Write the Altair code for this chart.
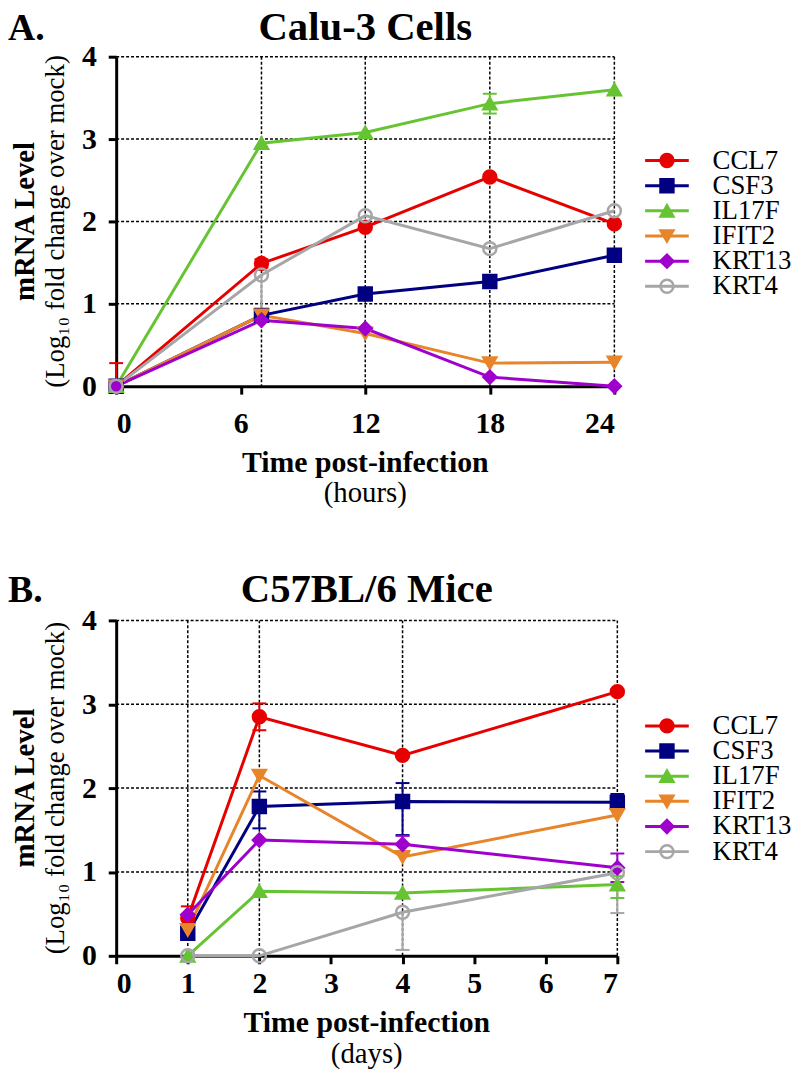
import altair as alt
import pandas as pd

SERIES = ["CCL7", "CSF3", "IL17F", "IFIT2", "KRT13", "KRT4"]
COLORS = ["#e60000", "#000080", "#66c433", "#e8842a", "#a000cc", "#a6a6a8"]
FILLS = ["#e60000", "#000080", "#66c433", "#e8842a", "#a000cc", "transparent"]
SHAPES = ["circle", "square", "triangle-up", "triangle-down", "diamond", "circle"]
Y_TICKS = [0, 1, 2, 3, 4]

# Panel A: Calu-3 cells (hours)
A_TIMES = [0, 7, 12, 18, 24]
A_XTICKS = [0, 6, 12, 18, 24]
A_VALUES = {
    "CCL7": [0, 1.49, 1.93, 2.54, 1.97],
    "CSF3": [0, 0.86, 1.12, 1.27, 1.59],
    "IL17F": [0, 2.95, 3.08, 3.43, 3.60],
    "IFIT2": [0, 0.86, 0.64, 0.28, 0.29],
    "KRT13": [0, 0.80, 0.70, 0.11, 0.0],
    "KRT4": [0, 1.35, 2.07, 1.67, 2.13],
}
A_ERR_UP = {
    "CCL7": [0.28, 0.05, 0, 0, 0],
    "CSF3": [0, 0, 0, 0, 0],
    "IL17F": [0, 0, 0, 0.12, 0],
    "IFIT2": [0, 0, 0, 0, 0],
    "KRT13": [0, 0, 0, 0, 0],
    "KRT4": [0, 0, 0, 0, 0],
}
A_ERR_DOWN = {
    "CCL7": [0, 0.05, 0, 0, 0],
    "CSF3": [0, 0, 0, 0, 0],
    "IL17F": [0, 0, 0, 0.12, 0],
    "IFIT2": [0, 0, 0, 0, 0],
    "KRT13": [0, 0, 0, 0, 0],
    "KRT4": [0, 0.47, 0, 0, 0],
}

# Panel B: C57BL/6 mice (days)
B_TIMES = [1, 2, 4, 7]
B_XTICKS = [0, 1, 2, 3, 4, 5, 6, 7]
B_VALUES = {
    "CCL7": [0.45, 2.85, 2.39, 3.15],
    "CSF3": [0.27, 1.78, 1.84, 1.83],
    "IL17F": [0, 0.77, 0.75, 0.85],
    "IFIT2": [0.31, 2.15, 1.18, 1.68],
    "KRT13": [0.49, 1.38, 1.33, 1.05],
    "KRT4": [0, 0, 0.52, 0.99],
}
B_ERR_UP = {
    "CCL7": [0.14, 0.16, 0, 0],
    "CSF3": [0, 0.18, 0.22, 0.10],
    "IL17F": [0, 0, 0, 0.10],
    "IFIT2": [0, 0, 0, 0],
    "KRT13": [0, 0, 0.10, 0.17],
    "KRT4": [0, 0, 0, 0],
}
B_ERR_DOWN = {
    "CCL7": [0, 0.16, 0, 0],
    "CSF3": [0, 0.26, 0.40, 0],
    "IL17F": [0, 0, 0, 0.16],
    "IFIT2": [0, 0, 0, 0],
    "KRT13": [0, 0, 0.10, 0.17],
    "KRT4": [0, 0, 0.45, 0.48],
}

FONT = "Liberation Serif"

color_scale = alt.Scale(domain=SERIES, range=COLORS)
fill_scale = alt.Scale(domain=SERIES, range=FILLS)
shape_scale = alt.Scale(domain=SERIES, range=SHAPES)


def text_layer(txt, x, y, size, bold=True, angle=0, align="center", baseline="middle"):
    kw = dict(font=FONT, fontSize=size, fontWeight="bold" if bold else "normal",
              color="black", align=align, baseline=baseline)
    if angle:
        kw["angle"] = angle
    return alt.Chart(pd.DataFrame({"t": [txt]})).mark_text(**kw).encode(
        text="t:N", x=alt.value(x), y=alt.value(y))


def panel(times, xticks, values, up, down, W, H, letter, title, unit,
          xpad, head_dy, title_dy, unit_dy):
    rows = []
    caps = []
    for s in SERIES:
        for i, t in enumerate(times):
            v = values[s][i]
            hi = v + up[s][i]
            lo = max(0.0, v - down[s][i])
            rows.append({"series": s, "t": t, "v": v, "lo": lo, "hi": hi,
                         "order": SERIES.index(s)})
            if up[s][i] > 0:
                caps.append({"series": s, "t": t, "c": hi})
            if down[s][i] > 0 and v - down[s][i] >= 0:
                caps.append({"series": s, "t": t, "c": lo})
    df = pd.DataFrame(rows)
    cdf = pd.DataFrame(caps)

    xmax = xticks[-1]
    xs = alt.Scale(domain=[0, xmax], nice=False)
    ys = alt.Scale(domain=[0, 4], nice=False)
    xaxis = alt.Axis(values=xticks, title=None, labelPadding=xpad, format="d")
    yaxis = alt.Axis(values=Y_TICKS, title=None, labelPadding=12, format="d")

    grid_h = alt.Chart(pd.DataFrame({"v": Y_TICKS[1:]})).mark_rule(
        color="black", strokeWidth=1.5, strokeDash=[3, 2]).encode(
        y=alt.Y("v:Q", scale=ys, axis=yaxis), x=alt.value(0), x2=alt.value(W))
    grid_v = alt.Chart(pd.DataFrame({"t": [t for t in times if t > 0]})).mark_rule(
        color="black", strokeWidth=1.5, strokeDash=[3, 2]).encode(
        x=alt.X("t:Q", scale=xs, axis=xaxis), y=alt.value(0), y2=alt.value(H))

    base = alt.Chart(df)
    err = base.transform_filter("datum.hi > datum.lo").mark_rule(strokeWidth=2).encode(
        x=alt.X("t:Q", scale=xs), y=alt.Y("lo:Q", scale=ys), y2="hi:Q",
        color=alt.Color("series:N", scale=color_scale, legend=None))
    cap = alt.Chart(cdf).mark_tick(orient="horizontal", size=14, thickness=2, opacity=1).encode(
        x=alt.X("t:Q", scale=xs), y=alt.Y("c:Q", scale=ys),
        color=alt.Color("series:N", scale=color_scale, legend=None))
    line = base.mark_line(strokeWidth=3).encode(
        x=alt.X("t:Q", scale=xs), y=alt.Y("v:Q", scale=ys),
        color=alt.Color("series:N", scale=color_scale, legend=None),
        order="t:Q")
    pts = base.mark_point(filled=True, size=170, opacity=1, strokeWidth=2.5).encode(
        x=alt.X("t:Q", scale=xs), y=alt.Y("v:Q", scale=ys),
        shape=alt.Shape("series:N", scale=shape_scale, legend=None),
        fill=alt.Fill("series:N", scale=fill_scale, legend=None),
        stroke=alt.Stroke("series:N", scale=color_scale, legend=None),
        order="order:Q")

    texts = [
        text_layer(letter, -109, head_dy, 38, baseline="alphabetic", align="left"),
        text_layer(title, W / 2, head_dy, 41, baseline="alphabetic"),
        text_layer("mRNA Level", -92, H / 2, 29, angle=270),
        text_layer("(Log\u2081\u2080 fold change over mock)", -61, H / 2, 27, bold=False, angle=270),
        text_layer("Time post-infection", W / 2, H + title_dy, 30),
        text_layer(unit, W / 2, H + unit_dy, 29, bold=False),
    ]
    plot = alt.layer(grid_h, grid_v, err, cap, line, pts, *texts).properties(width=W, height=H)

    leg_df = pd.DataFrame({"series": SERIES})
    top = H * 92 / 332
    ly = alt.Y("series:N", scale=alt.Scale(domain=SERIES, range=[top, top + 152], padding=0),
               axis=None)
    lbase = alt.Chart(leg_df)
    lrule = lbase.mark_rule(strokeWidth=3).encode(
        y=ly, x=alt.value(0), x2=alt.value(44),
        color=alt.Color("series:N", scale=color_scale, legend=None))
    lpts = lbase.mark_point(filled=True, size=170, opacity=1, strokeWidth=2.5).encode(
        y=ly, x=alt.value(22),
        shape=alt.Shape("series:N", scale=shape_scale, legend=None),
        fill=alt.Fill("series:N", scale=fill_scale, legend=None),
        stroke=alt.Stroke("series:N", scale=color_scale, legend=None))
    ltxt = lbase.mark_text(font=FONT, fontSize=27, align="left", baseline="middle",
                           color="black").encode(y=ly, x=alt.value(68), text="series:N")
    legend = alt.layer(lrule, lpts, ltxt).properties(width=140, height=H)
    return plot, legend


plotA, legA = panel(A_TIMES, A_XTICKS, A_VALUES, A_ERR_UP, A_ERR_DOWN, 502, 332,
                    "A.", "Calu-3 Cells", "(hours)", 15, -17, 77, 108)
plotB, legB = panel(B_TIMES, B_XTICKS, B_VALUES, B_ERR_UP, B_ERR_DOWN, 505, 338,
                    "B.", "C57BL/6 Mice", "(days)", 5, -19, 68, 99)

chart = alt.concat(
    plotA, legA, plotB, legB, columns=2,
    spacing=alt.RowColnumber(row=236, column=28), bounds="flush"
).properties(
    padding={"top": -5, "left": 0, "right": 0, "bottom": 0}
).configure_view(stroke=None).configure_axis(
    domainColor="black", domainWidth=3, tickColor="black", tickWidth=3, tickSize=8,
    labelFont=FONT, labelFontWeight="bold", labelFontSize=30, labelColor="black",
    grid=False
)

chart.save("out.html", embed_options={"renderer": "svg", "actions": False})
